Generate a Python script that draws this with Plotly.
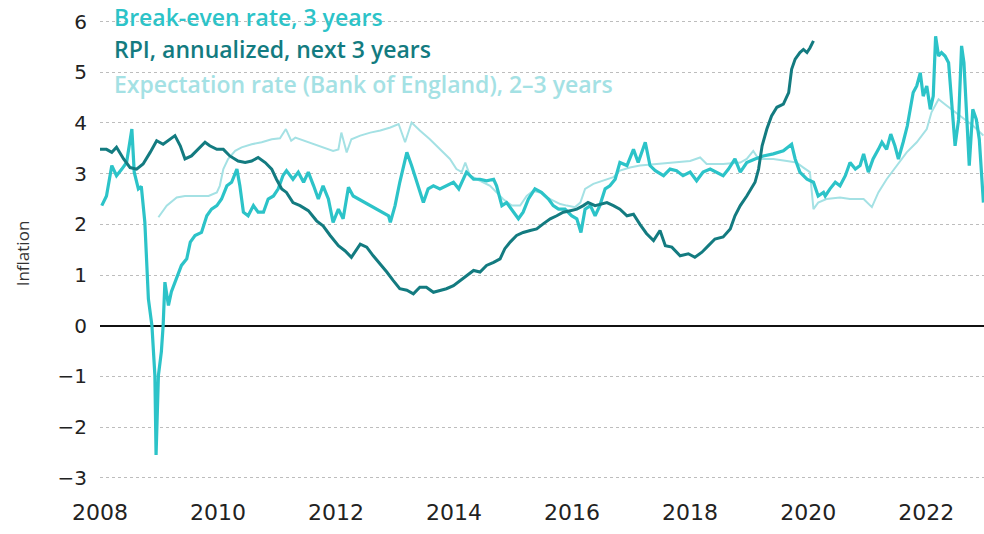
import plotly.graph_objects as go

# ---------------- data ----------------
breakeven_t = [2008.03, 2008.11, 2008.2, 2008.28, 2008.37, 2008.45, 2008.54, 2008.58, 2008.65, 2008.7,
               2008.76, 2008.82, 2008.88, 2008.93, 2008.95, 2008.99, 2009.04, 2009.07, 2009.1, 2009.16,
               2009.21, 2009.3, 2009.38, 2009.47, 2009.53, 2009.61, 2009.72, 2009.81, 2009.89, 2009.98,
               2010.06, 2010.15, 2010.23, 2010.32, 2010.37, 2010.43, 2010.51, 2010.6, 2010.68, 2010.77,
               2010.85, 2010.94, 2011.02, 2011.1, 2011.16, 2011.27, 2011.36, 2011.45, 2011.53, 2011.62,
               2011.7, 2011.78, 2011.87, 2011.95, 2012.04, 2012.12, 2012.21, 2012.29, 2012.89, 2012.92,
               2013.0, 2013.08, 2013.2, 2013.28, 2013.37, 2013.48, 2013.56, 2013.65, 2013.76, 2013.87,
               2013.99, 2014.08, 2014.21, 2014.33, 2014.44, 2014.55, 2014.67, 2014.72, 2014.81, 2014.89,
               2015.0, 2015.09, 2015.17, 2015.26, 2015.37, 2015.48, 2015.6, 2015.68, 2015.77, 2015.88,
               2015.99, 2016.08, 2016.15, 2016.22, 2016.31, 2016.39, 2016.47, 2016.56, 2016.64, 2016.73,
               2016.81, 2016.93, 2017.04, 2017.12, 2017.24, 2017.32, 2017.41, 2017.55, 2017.66, 2017.77,
               2017.88, 2018.0, 2018.11, 2018.22, 2018.34, 2018.45, 2018.56, 2018.65, 2018.76, 2018.85,
               2018.96, 2019.1, 2019.24, 2019.41, 2019.58, 2019.72, 2019.78, 2019.86, 2019.98, 2020.09,
               2020.17, 2020.26, 2020.29, 2020.37, 2020.46, 2020.54, 2020.63, 2020.71, 2020.8, 2020.88,
               2020.94, 2021.02, 2021.1, 2021.19, 2021.25, 2021.33, 2021.4, 2021.47, 2021.53, 2021.61,
               2021.68, 2021.73, 2021.78, 2021.84, 2021.9, 2021.95, 2022.01, 2022.07, 2022.12, 2022.16,
               2022.21, 2022.26, 2022.32, 2022.38, 2022.44, 2022.49, 2022.55, 2022.6, 2022.64, 2022.69,
               2022.73, 2022.79, 2022.85, 2022.9, 2022.97]
breakeven_v = [2.37, 2.56, 3.16, 2.96, 3.09, 3.22, 3.88, 3.03, 2.70, 2.75,
               2.04, 0.53, 0.0, -0.98, -2.55, -0.98, -0.51, 0.0, 0.86, 0.40,
               0.67, 0.93, 1.19, 1.32, 1.65, 1.78, 1.84, 2.17, 2.30, 2.37,
               2.50, 2.76, 2.83, 3.09, 2.76, 2.24, 2.17, 2.37, 2.24, 2.24,
               2.50, 2.56, 2.70, 2.96, 3.06, 2.89, 3.03, 2.83, 3.03, 2.76,
               2.50, 2.76, 2.50, 2.04, 2.30, 2.11, 2.73, 2.56, 2.17, 2.04,
               2.37, 2.83, 3.42, 3.16, 2.83, 2.43, 2.70, 2.76, 2.70, 2.76,
               2.83, 2.70, 3.03, 2.89, 2.89, 2.86, 2.89, 2.76, 2.37, 2.43,
               2.24, 2.11, 2.24, 2.50, 2.70, 2.63, 2.50, 2.37, 2.30, 2.30,
               2.17, 2.11, 1.84, 2.30, 2.37, 2.17, 2.37, 2.70, 2.76, 2.89,
               3.22, 3.16, 3.48, 3.22, 3.62, 3.16, 3.06, 2.96, 3.09, 3.06,
               2.96, 3.03, 2.86, 3.03, 3.09, 3.03, 2.96, 3.09, 3.29, 3.03,
               3.22, 3.29, 3.35, 3.39, 3.45, 3.58, 3.29, 3.03, 2.89, 2.83,
               2.56, 2.63, 2.56, 2.70, 2.83, 2.76, 2.96, 3.22, 3.09, 3.16,
               3.39, 3.03, 3.29, 3.48, 3.62, 3.48, 3.78, 3.55, 3.29, 3.62,
               3.94, 4.27, 4.60, 4.73, 4.99, 4.53, 4.73, 4.27, 4.53, 5.71,
               5.32, 5.39, 5.32, 5.19, 4.27, 3.55, 4.07, 5.52, 5.19, 4.07,
               3.16, 4.27, 4.07, 3.68, 2.43]

rpi_t = [2008.0, 2008.11, 2008.2, 2008.28, 2008.4, 2008.51, 2008.62, 2008.73, 2008.85, 2008.96,
         2009.07, 2009.16, 2009.27, 2009.36, 2009.44, 2009.55, 2009.66, 2009.78, 2009.86, 2009.98,
         2010.09, 2010.2, 2010.34, 2010.46, 2010.57, 2010.68, 2010.8, 2010.91, 2010.99, 2011.08,
         2011.16, 2011.27, 2011.39, 2011.53, 2011.67, 2011.78, 2011.9, 2012.04, 2012.15, 2012.26,
         2012.41, 2012.52, 2012.63, 2012.75, 2012.86, 2012.97, 2013.08, 2013.2, 2013.31, 2013.42,
         2013.53, 2013.65, 2013.76, 2013.87, 2013.99, 2014.1, 2014.21, 2014.33, 2014.44, 2014.55,
         2014.67, 2014.78, 2014.86, 2014.95, 2015.06, 2015.17, 2015.29, 2015.4, 2015.51, 2015.63,
         2015.74, 2015.85, 2015.97, 2016.08, 2016.19, 2016.27, 2016.39, 2016.47, 2016.59, 2016.7,
         2016.81, 2016.93, 2017.04, 2017.15, 2017.26, 2017.38, 2017.49, 2017.58, 2017.69, 2017.83,
         2017.97, 2018.08, 2018.2, 2018.31, 2018.42, 2018.56, 2018.68, 2018.76, 2018.85, 2018.96,
         2019.1, 2019.16, 2019.22, 2019.3, 2019.38, 2019.47, 2019.58, 2019.67, 2019.72, 2019.78,
         2019.86, 2019.92, 2019.98, 2020.03, 2020.09]
rpi_v = [3.48, 3.48, 3.42, 3.52, 3.29, 3.12, 3.09, 3.19, 3.42, 3.65,
         3.58, 3.65, 3.75, 3.55, 3.29, 3.35, 3.48, 3.62, 3.55, 3.48,
         3.48, 3.35, 3.25, 3.22, 3.25, 3.32, 3.22, 3.09, 2.89, 2.70,
         2.63, 2.43, 2.37, 2.27, 2.07, 1.97, 1.78, 1.58, 1.48, 1.35,
         1.61, 1.55, 1.38, 1.22, 1.06, 0.89, 0.73, 0.70, 0.63, 0.76,
         0.76, 0.66, 0.70, 0.73, 0.79, 0.89, 0.99, 1.09, 1.06, 1.19,
         1.25, 1.32, 1.52, 1.65, 1.78, 1.84, 1.88, 1.91, 2.01, 2.11,
         2.17, 2.24, 2.27, 2.30, 2.37, 2.43, 2.37, 2.40, 2.43, 2.37,
         2.30, 2.17, 2.20, 2.00, 1.82, 1.68, 1.88, 1.58, 1.55, 1.38,
         1.42, 1.35, 1.45, 1.58, 1.71, 1.75, 1.91, 2.17, 2.37, 2.56,
         2.83, 3.09, 3.55, 3.88, 4.14, 4.31, 4.37, 4.60, 5.06, 5.26,
         5.39, 5.45, 5.39, 5.48, 5.62]

expect_t = [2008.99, 2009.13, 2009.3, 2009.44, 2009.61, 2009.84, 2009.98, 2010.03, 2010.09, 2010.17,
            2010.29, 2010.4, 2010.57, 2010.74, 2010.91, 2011.05, 2011.15, 2011.24, 2011.31, 2011.45,
            2011.62, 2011.78, 2011.95, 2012.04, 2012.09, 2012.18, 2012.26, 2012.41, 2012.58, 2012.75,
            2012.92, 2013.06, 2013.17, 2013.28, 2013.42, 2013.59, 2013.76, 2013.93, 2014.04, 2014.13,
            2014.19, 2014.27, 2014.44, 2014.61, 2014.72, 2014.83, 2014.98, 2015.12, 2015.23, 2015.34,
            2015.46, 2015.57, 2015.68, 2015.8, 2015.91, 2016.05, 2016.14, 2016.22, 2016.36, 2016.53,
            2016.7, 2016.81, 2016.98, 2017.15, 2017.43, 2017.72, 2018.0, 2018.17, 2018.28, 2018.56,
            2018.85, 2018.96, 2019.07, 2019.16, 2019.41, 2019.64, 2019.8, 2019.92, 2020.03, 2020.09,
            2020.17, 2020.31, 2020.54, 2020.71, 2020.94, 2021.08, 2021.19, 2021.33, 2021.5, 2021.67,
            2021.84, 2022.01, 2022.09, 2022.21, 2022.35, 2022.57, 2022.8, 2022.97]
expect_v = [2.14, 2.37, 2.53, 2.56, 2.56, 2.56, 2.63, 2.76, 3.09, 3.29,
            3.45, 3.52, 3.58, 3.62, 3.68, 3.70, 3.88, 3.65, 3.71, 3.65,
            3.58, 3.52, 3.45, 3.48, 3.81, 3.42, 3.68, 3.75, 3.81, 3.85,
            3.91, 3.98, 3.62, 4.01, 3.85, 3.68, 3.48, 3.29, 3.09, 3.03,
            3.22, 2.96, 2.86, 2.76, 2.63, 2.50, 2.37, 2.37, 2.56, 2.66,
            2.63, 2.53, 2.47, 2.40, 2.37, 2.34, 2.43, 2.70, 2.80, 2.86,
            2.93, 3.06, 3.12, 3.16, 3.19, 3.22, 3.25, 3.32, 3.19, 3.19,
            3.22, 3.29, 3.45, 3.29, 3.29, 3.25, 3.22, 3.12, 3.03, 2.30,
            2.43, 2.50, 2.53, 2.50, 2.50, 2.34, 2.63, 2.89, 3.16, 3.42,
            3.62, 3.88, 4.21, 4.47, 4.34, 4.14, 3.94, 3.75]

series_names = ["Break-even rate, 3 years",
                "RPI, annualized, next 3 years",
                "Expectation rate (Bank of England), 2\u20133 years"]
x_tick_vals = [2008, 2010, 2012, 2014, 2016, 2018, 2020, 2022]
x_tick_text = ["2008", "2010", "2012", "2014", "2016", "2018", "2020", "2022"]
y_tick_vals = [-3, -2, -1, 0, 1, 2, 3, 4, 5, 6]
y_tick_text = ["\u22123", "\u22122", "\u22121", "0", "1", "2", "3", "4", "5", "6"]
y_title = "Inflation"

# ---------------- styles ----------------
C_BE = "#2cc3c8"
C_RPI = "#137b80"
C_EXP = "#a4e1e4"
FONT = "Open Sans"
TICK_FONT = "DejaVu Sans"

fig = go.Figure()
fig.add_trace(go.Scatter(x=expect_t, y=expect_v, mode="lines",
                         line=dict(color=C_EXP, width=2), showlegend=False, hoverinfo="skip"))
fig.add_trace(go.Scatter(x=breakeven_t, y=breakeven_v, mode="lines",
                         line=dict(color=C_BE, width=3.2), showlegend=False, hoverinfo="skip"))
fig.add_trace(go.Scatter(x=rpi_t, y=rpi_v, mode="lines",
                         line=dict(color=C_RPI, width=3), showlegend=False, hoverinfo="skip"))

# legend-like labels (coloured text)
for txt, col, yy in zip(series_names, [C_BE, C_RPI, C_EXP], [6.10, 5.45, 4.76]):
    fig.add_annotation(x=0.0136, xref="paper", y=yy, yref="y", text=txt,
                       showarrow=False, xanchor="left", yanchor="middle",
                       font=dict(family=FONT, size=23, color=col, weight=600))

fig.update_layout(
    width=984, height=534, autosize=False,
    margin=dict(l=100, r=0, t=14, b=41, pad=0),
    paper_bgcolor="white", plot_bgcolor="white",
    font=dict(family=FONT, color="#222"),
    xaxis=dict(range=[2008, 2022.98], tickmode="array", tickvals=x_tick_vals,
               ticktext=x_tick_text, showgrid=False, zeroline=False, showline=False,
               ticks="", ticklabelstandoff=4, automargin=False,
               tickfont=dict(family=TICK_FONT, size=22, color="#222")),
    yaxis=dict(range=[-3.3, 6.15], tickmode="array", tickvals=y_tick_vals,
               ticktext=y_tick_text, showgrid=True, gridcolor="#bdbdbd", griddash="dot",
               gridwidth=1, zeroline=True, zerolinecolor="#111", zerolinewidth=2,
               showline=False, ticks="", ticklabelstandoff=12, automargin=False,
               tickfont=dict(family=TICK_FONT, size=20, color="#222"),
               title=dict(text=y_title, font=dict(size=17, color="#333"), standoff=23)),
)

fig.write_html("out.html",
               config={"displayModeBar": False},
               post_script="document.body.style.margin='0px';document.body.style.padding='0px';")
